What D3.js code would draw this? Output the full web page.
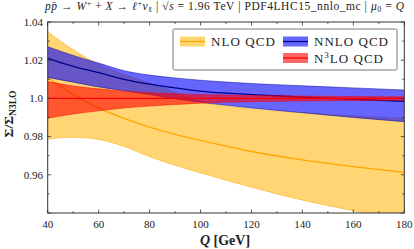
<!DOCTYPE html>
<html><head><meta charset="utf-8">
<script src="https://cdn.jsdelivr.net/npm/d3@7"></script>
<style>body{margin:0;background:#fff}svg{display:block}text{font-family:"Liberation Serif","DejaVu Serif",serif;fill:#222}</style>
</head><body><svg id="c" width="414" height="249"></svg>
<script>
const Q = [40, 50, 60, 70, 80, 90, 100, 120, 140, 160, 180];
const nloCentral = [1.0108, 1.0020, 0.9950, 0.9895, 0.9850, 0.9812, 0.9780, 0.9722, 0.9678, 0.9643, 0.9613];
const nloUpper   = [1.0349, 1.0255, 1.0178, 1.0125, 1.0080, 1.0032, 0.9985, 0.9945, 0.9925, 0.9908, 0.9896];
const nloLower   = [0.9787, 0.9796, 0.9785, 0.9748, 0.9695, 0.9650, 0.9610, 0.9535, 0.9467, 0.9412, 0.9355];
const nnloCentral= [1.0210, 1.0168, 1.0135, 1.0100, 1.0075, 1.0055, 1.0038, 1.0020, 1.0007, 0.9995, 0.9985];
const nnloUpper  = [1.0271, 1.0225, 1.0185, 1.0145, 1.0122, 1.0107, 1.0095, 1.0078, 1.0066, 1.0055, 1.0044];
const nnloLower  = [1.0110, 1.0085, 1.0060, 1.0040, 1.0020, 0.9998, 0.9980, 0.9950, 0.9925, 0.9900, 0.9878];
const n3loCentral= [1.0, 1.0, 1.0, 1.0, 1.0, 1.0, 1.0, 1.0, 1.0, 1.0, 1.0];
const n3loUpper  = [1.0088, 1.0065, 1.0050, 1.0038, 1.0030, 1.0024, 1.0020, 1.0015, 1.0012, 1.0010, 1.0008];
const n3loLower  = [0.9896, 0.9918, 0.9935, 0.9950, 0.9960, 0.9968, 0.9975, 0.9983, 0.9987, 0.9989, 0.9990];
const xTicks = [40, 60, 80, 100, 120, 140, 160, 180];
const yTicks = [0.96, 0.98, 1.0, 1.02, 1.04];
const yTickLabels = ["0.96", "0.98", "1.0", "1.02", "1.04"];
const legendLabels = ["NLO QCD", "NNLO QCD", "N3LO QCD"];

const svg = d3.select("#c");
const L = 47.7, R = 404.3, T = 22, B = 213;
const x = d3.scaleLinear().domain([40, 180]).range([L, R]);
const y = d3.scaleLinear().domain([0.94, 1.04]).range([B, T]);

svg.append("defs").append("clipPath").attr("id", "clip")
  .append("rect").attr("x", L).attr("y", T).attr("width", R - L).attr("height", B - T);

const series = [
  {c: nloCentral, u: nloUpper, l: nloLower, fill: "rgba(255,180,0,0.55)", line: "#ffa500", edge: "#ffa500"},
  {c: nnloCentral, u: nnloUpper, l: nnloLower, fill: "rgba(0,0,255,0.6)", line: "#000088", edge: "#000099"},
  {c: n3loCentral, u: n3loUpper, l: n3loLower, fill: "rgba(255,0,0,0.6)", line: "#ff0000", edge: "#ff0000"}
];
const g = svg.append("g").attr("clip-path", "url(#clip)");
const curve = d3.curveMonotoneX;
series.forEach(s => {
  const area = d3.area().x((d, i) => x(Q[i])).y0((d, i) => y(s.l[i])).y1((d, i) => y(s.u[i])).curve(curve);
  g.append("path").attr("d", area(Q)).attr("fill", s.fill);
  const ln = arr => d3.line().x((d, i) => x(Q[i])).y((d, i) => y(arr[i])).curve(curve)(Q);
  g.append("path").attr("d", ln(s.u)).attr("fill", "none").attr("stroke", s.edge).attr("stroke-width", 0.6).attr("opacity", 0.8);
  g.append("path").attr("d", ln(s.l)).attr("fill", "none").attr("stroke", s.edge).attr("stroke-width", 0.6).attr("opacity", 0.8);
  g.append("path").attr("d", ln(s.c)).attr("fill", "none").attr("stroke", s.line).attr("stroke-width", 1.3);
});

// frame
svg.append("rect").attr("x", L).attr("y", T).attr("width", R - L).attr("height", B - T)
  .attr("fill", "none").attr("stroke", "#333").attr("stroke-width", 1);

// ticks
const ax = svg.append("g").attr("stroke", "#333").attr("stroke-width", 0.8);
d3.range(40, 181, 10).forEach(v => {
  const len = v % 20 === 0 ? 3.5 : 2;
  ax.append("line").attr("x1", x(v)).attr("x2", x(v)).attr("y1", B).attr("y2", B - len);
  ax.append("line").attr("x1", x(v)).attr("x2", x(v)).attr("y1", T).attr("y2", T + len);
});
d3.range(0.94, 1.0401, 0.01).forEach((v, i) => {
  const len = i % 2 === 0 ? 3.5 : 2;
  ax.append("line").attr("x1", L).attr("x2", L + len).attr("y1", y(v)).attr("y2", y(v));
  ax.append("line").attr("x1", R).attr("x2", R - len).attr("y1", y(v)).attr("y2", y(v));
});

// tick labels
xTicks.forEach(v => svg.append("text").attr("x", x(v)).attr("y", 227.5).attr("text-anchor", "middle")
  .attr("font-size", 11).text(v));
yTicks.forEach((v, i) => svg.append("text").attr("x", 43).attr("y", y(v) + 3.7).attr("text-anchor", "end")
  .attr("font-size", 11).text(yTickLabels[i]));

// x label
const xl = svg.append("text").attr("x", 225).attr("y", 245).attr("text-anchor", "middle")
  .attr("font-size", 14).attr("font-weight", "bold");
xl.append("tspan").attr("font-style", "italic").text("Q");
xl.append("tspan").text(" [GeV]");

// y label
const yl = svg.append("text").attr("transform", "translate(13,114) rotate(-90)").attr("text-anchor", "middle")
  .attr("font-size", 13.5).attr("font-weight", "bold");
yl.append("tspan").text("Σ/Σ");
yl.append("tspan").attr("font-size", 9.5).attr("dy", 3).text("N3LO");

// title
const tt = svg.append("text").attr("x", 45).attr("y", 10).attr("font-size", 11.5)
  .attr("textLength", 359).attr("lengthAdjust", "spacing");
const tparts = [["p", "i"], ["p̄", "i"], [" → ", ""], ["W", "i"], ["+", "sup"], [" + ", ""], ["X", "i"], [" → ", ""],
  ["ℓ", "i"], ["+", "sup"], ["ν", "i"], ["ℓ", "sub"], [" | √", ""], ["s", "i"], [" = 1.96 TeV | PDF4LHC15_nnlo_mc | ", ""],
  ["μ", "i"], ["0", "sub"], [" = ", ""], ["Q", "i"]];
let shift = 0;
tparts.forEach(([t, k]) => {
  const sp = tt.append("tspan").text(t);
  let target = 0;
  if (k === "i") sp.attr("font-style", "italic");
  if (k === "sup") { sp.attr("font-size", 8); target = -4; }
  if (k === "sub") { sp.attr("font-size", 8); target = 2.2; }
  if (target !== shift) { sp.attr("dy", target - shift); shift = target; }
});

// legend
const lg = svg.append("g");
lg.append("rect").attr("x", 173).attr("y", 29).attr("width", 224).attr("height", 41).attr("rx", 1.5)
  .attr("fill", "#fff").attr("stroke", "#555").attr("stroke-width", 0.8);
const lpos = [[180, 41.5], [283, 41.5], [283, 58]];
const lwidth = [64, 74, 69];
series.forEach((s, i) => {
  const [lx, ly] = lpos[i];
  lg.append("rect").attr("x", lx).attr("y", ly - 5).attr("width", 25).attr("height", 10).attr("fill", s.fill);
  lg.append("line").attr("x1", lx).attr("x2", lx + 25).attr("y1", ly).attr("y2", ly).attr("stroke", s.line).attr("stroke-width", 1.3);
  const t = lg.append("text").attr("x", lx + 31).attr("y", ly + 4.5).attr("font-size", 13)
    .attr("textLength", lwidth[i]).attr("lengthAdjust", "spacing");
  if (i === 2) {
    t.append("tspan").text("N");
    t.append("tspan").attr("font-size", 8.5).attr("dy", -5).text("3");
    t.append("tspan").attr("dy", 5).text("LO QCD");
  } else t.text(legendLabels[i]);
});
</script></body></html>
